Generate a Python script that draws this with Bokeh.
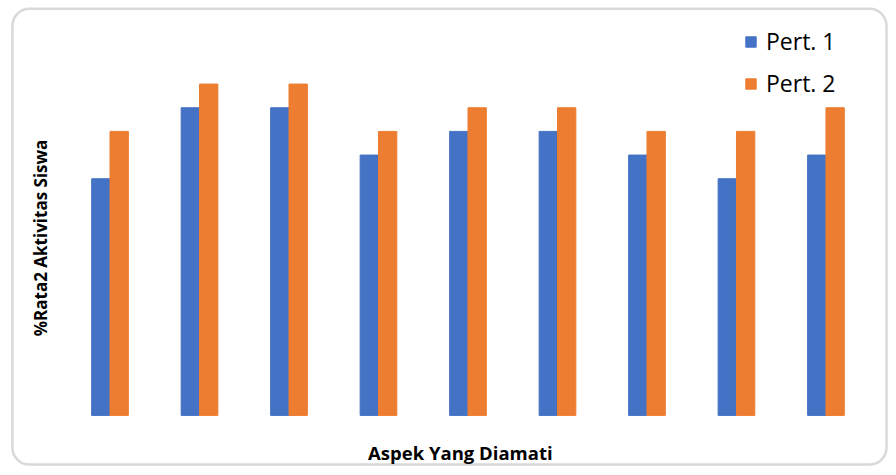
import numpy as np
from math import pi
from bokeh.plotting import figure
from bokeh.models import Range1d, Legend, LegendItem, BoxAnnotation, Label
from bokeh.embed import file_html
from bokeh.resources import INLINE

# ---- data ----
categories = ["A1", "A2", "A3", "A4", "A5", "A6", "A7", "A8", "A9"]
pert1 = [50, 65, 65, 55, 60, 60, 55, 50, 55]
pert2 = [60, 70, 70, 60, 65, 65, 60, 60, 65]
series_names = ["Pert. 1", "Pert. 2"]
x_title = "Aspek Yang Diamati"
y_title = "%Rata2 Aktivitas Siswa"

# ---- layout (pixels of the figure canvas) ----
W, H = 888, 467
SX, SY = W / 896, H / 475
FL, FR, FT, FB = 8, 888, 6, 466            # frame edges
cat0_px, cat_step_px = 110.5 * SX, 90.3 * SX  # first category center, spacing
base_px, ref_px, ref_val = 422 * SY, 85 * SY, 70.0
ppu = (base_px - ref_px) / ref_val          # pixels per value unit

def xd(px):
    return (px - cat0_px) / cat_step_px

def yd(py):
    return (base_px - py) / ppu

xpos = np.arange(len(categories))

p = figure(width=W, height=H, output_backend="svg", toolbar_location=None,
           x_range=Range1d(xd(FL), xd(FR)), y_range=Range1d(yd(FB), yd(FT)),
           x_axis_location=None, y_axis_location=None,
           min_border_left=FL, min_border_right=W - FR, min_border_top=FT, min_border_bottom=H - FB)
p.outline_line_color = None
p.grid.grid_line_color = None
p.background_fill_color = "white"
p.border_fill_color = "white"

frame_box = BoxAnnotation(left=xd(12 * SX), right=xd(894 * SX), top=yd(8.5 * SY), bottom=yd(472 * SY),
                          fill_color=None, line_color="#808080", line_width=2.5, border_radius=17)
p.add_layout(frame_box)

bw = 0.205
src = dict(x1=xpos - bw / 2, x2=xpos + bw / 2, p1=pert1, p2=pert2)
r1 = p.vbar(x="x1", top="p1", width=bw, source=src,
            fill_color="#4472C4", line_color="#4472C4")
r2 = p.vbar(x="x2", top="p2", width=bw, source=src,
            fill_color="#ED7D31", line_color="#ED7D31")

p.add_layout(Label(x=xd(40 * SX), y=yd(241.5 * SY), text=y_title, angle=pi / 2, text_align="center",
                   text_baseline="alphabetic", text_font="Open Sans", text_font_style="bold",
                   text_font_size="17px", text_color="black"))
p.add_layout(Label(x=xd(464 * SX), y=yd(460 * SY), text=x_title, text_align="center",
                   text_baseline="alphabetic", text_font="Open Sans", text_font_style="bold",
                   text_font_size="18.5px", text_color="black"))

legend = Legend(items=[LegendItem(label=series_names[0], renderers=[r1]),
                       LegendItem(label=series_names[1], renderers=[r2])],
                location=(736, 367), orientation="vertical")
legend.border_line_color = None
legend.background_fill_color = None
legend.padding = 0
legend.margin = 0
legend.spacing = 10
legend.glyph_width = 13
legend.glyph_height = 13
legend.label_standoff = 9
legend.label_text_font = "Open Sans"
legend.label_text_font_size = "23px"
legend.label_text_color = "black"
p.add_layout(legend, "center")

open("out.html", "w").write(file_html(p, INLINE))
